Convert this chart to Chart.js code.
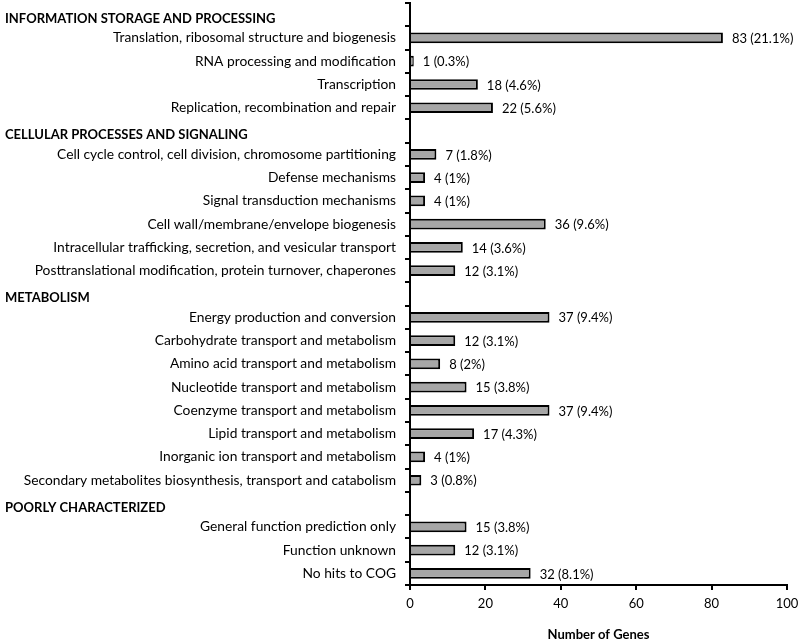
<!DOCTYPE html>
<html>
<head>
<meta charset="utf-8">
<script src="https://cdn.jsdelivr.net/npm/chart.js@4.4.0/dist/chart.umd.min.js"></script>
<style>
  body { margin: 0; background: #fff; }
  canvas { display: block; }
</style>
</head>
<body>
<canvas id="grafica" width="800" height="643"></canvas>
<script>
// rows of the chart, group headers have no bar
var categorias = [
  "INFORMATION STORAGE AND PROCESSING",
  "Translation, ribosomal structure and biogenesis",
  "RNA processing and modification",
  "Transcription",
  "Replication, recombination and repair",
  "CELLULAR PROCESSES AND SIGNALING",
  "Cell cycle control, cell division, chromosome partitioning",
  "Defense mechanisms",
  "Signal transduction mechanisms",
  "Cell wall/membrane/envelope biogenesis",
  "Intracellular trafficking, secretion, and vesicular transport",
  "Posttranslational modification, protein turnover, chaperones",
  "METABOLISM",
  "Energy production and conversion",
  "Carbohydrate transport and metabolism",
  "Amino acid transport and metabolism",
  "Nucleotide transport and metabolism",
  "Coenzyme transport and metabolism",
  "Lipid transport and metabolism",
  "Inorganic ion transport and metabolism",
  "Secondary metabolites biosynthesis, transport and catabolism",
  "POORLY CHARACTERIZED",
  "General function prediction only",
  "Function unknown",
  "No hits to COG"
];
var esEncabezado = [true,false,false,false,false,true,false,false,false,false,false,false,true,false,false,false,false,false,false,false,false,true,false,false,false];
var genes = [null,83,1,18,22,null,7,4,4,36,14,12,null,37,12,8,15,37,17,4,3,null,15,12,32];
var porcentajes = [null,"21.1","0.3","4.6","5.6",null,"1.8","1","1","9.6","3.6","3.1",null,"9.4","3.1","2","3.8","9.4","4.3","1","0.8",null,"3.8","3.1","8.1"];
var ticksX = [0, 20, 40, 60, 80, 100];

var fuente = "Lato, 'Open Sans', sans-serif";

// draws the category names and the value labels
var etiquetas = {
  id: 'etiquetas',
  afterDraw: function(chart){
    var ctx = chart.ctx;
    var ejeY = chart.scales.y;
    var ejeX = chart.scales.x;
    ctx.save();
    ctx.fillStyle = '#000';
    ctx.textBaseline = 'middle';
    for (var i = 0; i < categorias.length; i++) {
      var y = ejeY.getPixelForValue(i);
      if (esEncabezado[i]) {
        ctx.font = "bold 13px " + fuente;
        ctx.textAlign = 'left';
        ctx.fillText(categorias[i], 5, y + 4);
      } else {
        ctx.font = "13.8px " + fuente;
        ctx.textAlign = 'right';
        ctx.fillText(categorias[i], chart.chartArea.left - 14, y);
        ctx.font = "13px " + fuente;
        ctx.textAlign = 'left';
        var x = ejeX.getPixelForValue(genes[i]);
        ctx.fillText(genes[i] + " (" + porcentajes[i] + "%)", x + 9, y + 1);
      }
    }
    ctx.restore();
  }
};

var grafica = document.getElementById('grafica').getContext('2d');
var chart = new Chart(grafica, {
  type: 'bar',
  data: {
    labels: categorias,
    datasets: [{
      data: genes,
      backgroundColor: '#a6a6a6',
      borderColor: '#000',
      borderWidth: 2,
      categoryPercentage: 1,
      barPercentage: 0.46
    }]
  },
  options: {
    indexAxis: 'y',
    responsive: false,
    animation: false,
    layout: { padding: { top: 3, right: 13, left: 0, bottom: 0 } },
    plugins: {
      legend: { display: false },
      tooltip: { enabled: false }
    },
    scales: {
      y: {
        ticks: { display: false },
        grid: { drawOnChartArea: false, color: '#000', lineWidth: 2, tickLength: 5, offset: true },
        border: { color: '#000', width: 2 },
        afterFit: function(scale){ scale.width = 410; }
      },
      x: {
        min: 0,
        max: 100,
        afterBuildTicks: function(scale){ scale.ticks = ticksX.map(function(v){ return { value: v }; }); },
        ticks: { color: '#000', font: { family: fuente, size: 13 }, padding: 6 },
        grid: { drawOnChartArea: false, color: '#000', lineWidth: 2, tickLength: 5 },
        border: { color: '#000', width: 2 },
        title: {
          display: true,
          text: 'Number of Genes',
          color: '#000',
          font: { family: fuente, size: 13, weight: 'bold' },
          padding: { top: 10, bottom: 0 }
        },
        afterFit: function(scale){
          scale.height = 58;
          scale.paddingLeft = 0;
          scale.paddingRight = 0;
        }
      }
    }
  },
  plugins: [etiquetas]
});
</script>
</body>
</html>
